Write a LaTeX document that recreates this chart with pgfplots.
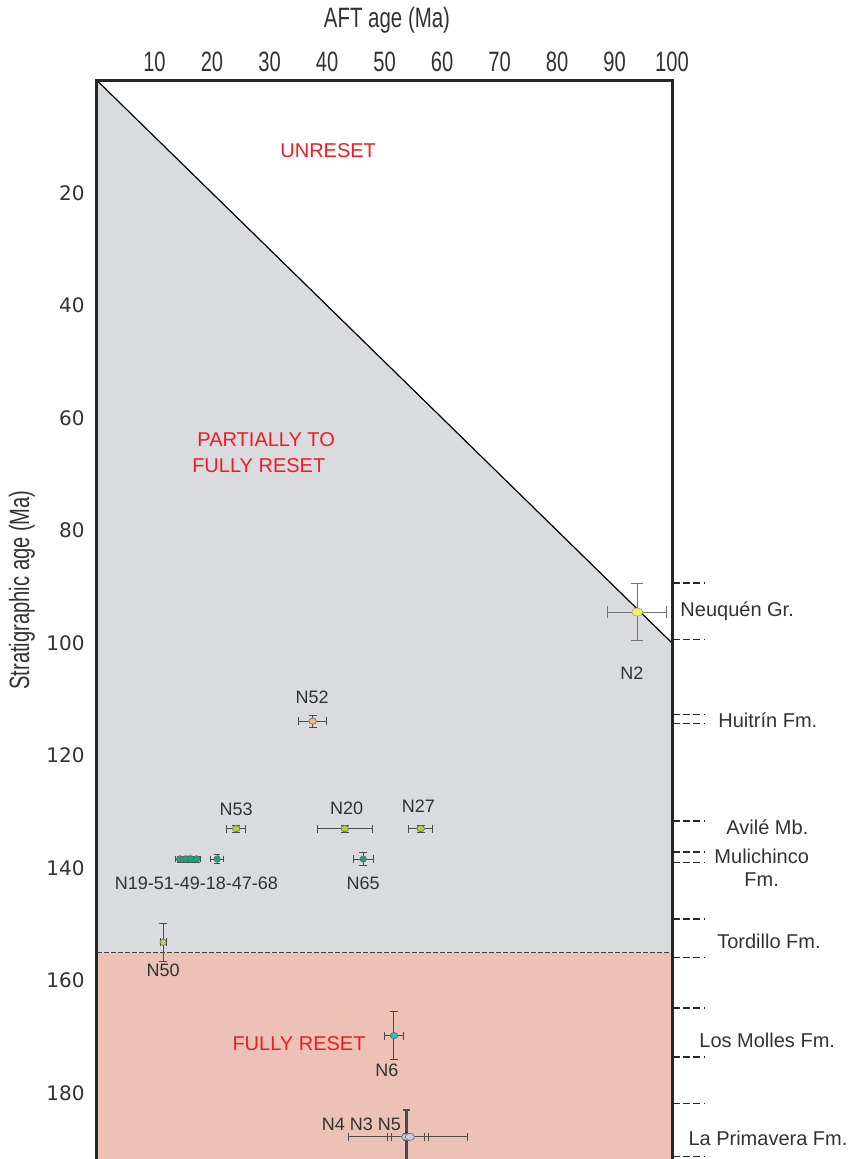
\documentclass[border=0pt]{standalone}
\usepackage{pgfplots}
\pgfplotsset{compat=1.18}
\usepackage{graphicx}
\usepackage{fontspec}
\setmainfont{Liberation Sans}
\newfontfamily\dejavu{DejaVu Sans}
\definecolor{greyreg}{RGB}{217,219,222}
\definecolor{pinkreg}{RGB}{236,193,182}
\definecolor{txt}{RGB}{50,50,50}
\definecolor{ebar}{RGB}{75,75,75}
\definecolor{cN2}{RGB}{238,238,120}
\definecolor{cN52}{RGB}{240,185,110}
\definecolor{cYG}{RGB}{180,210,50}
\definecolor{cTeal}{RGB}{20,170,120}
\definecolor{cN50}{RGB}{195,205,120}
\definecolor{cN6}{RGB}{30,195,205}
\definecolor{cN4}{RGB}{200,205,232}
\definecolor{redtxt}{RGB}{237,28,36}
\newcommand\cond[1]{\scalebox{0.72}[1]{#1}}
\pgfplotsset{
  eb/.style={only marks, mark=*, mark size=1.6pt,
    error bars/x dir=both, error bars/x explicit,
    error bars/y dir=both, error bars/y explicit,
    error bars/error bar style={line width=0.5pt, draw=ebar},
    error bars/error mark options={rotate=90, line width=0.5pt, draw=ebar, mark size=2pt}},
}
\begin{document}
\begin{tikzpicture}
\useasboundingbox (-48.5pt,3.56pt) rectangle (377.5pt,583.06pt);
\begin{axis}[
  at={(0pt,0pt)}, anchor=south west,
  scale only axis, width=287.5pt, height=542.81pt,
  xmin=0, xmax=100, ymin=0, ymax=193, y dir=reverse,
  clip=false, axis on top,
  axis line style={line width=1.5pt, draw=black!85},
  major tick length=0pt,
  xtick={10,20,...,100},
  xticklabels={\cond{10},\cond{20},\cond{30},\cond{40},\cond{50},\cond{60},\cond{70},\cond{80},\cond{90},\cond{100}},
  ytick={20,40,...,180},
  xticklabel pos=upper,
  /pgf/number format/assume math mode=true,
  xticklabel style={font=\fontsize{14}{14}\selectfont, text=txt, inner sep=0pt, anchor=south, yshift=4.25pt},
  yticklabel style={font=\dejavu\fontsize{10}{10}\selectfont, text=txt, inner sep=0pt, anchor=east, xshift=-6pt},
]
% regions
\addplot[draw=none, fill=greyreg] coordinates {(0,0) (100,100) (100,155) (0,155) (0,0)};
\addplot[draw=none, fill=pinkreg] coordinates {(0,155) (100,155) (100,193) (0,193) (0,155)};
\addplot[line width=0.6pt, black!75, dash pattern=on 2.4pt off 1.1pt] coordinates {(0,155) (100,155)};
\addplot[line width=0.6pt, black] coordinates {(0,0) (100,100)};

% data with error bars
\addplot[eb, mark size=2.1pt, mark options={fill=cN2, draw=cN2!70!black, line width=0.3pt, xscale=1.3},
  error bars/error bar style={line width=0.5pt, draw=black!55},
  error bars/error mark options={rotate=90, line width=0.5pt, draw=black!55, mark size=3pt}]
  coordinates {(93.97,94.5) +- (5.15,5.1)};
\addplot[eb, mark options={fill=cN52, draw=black!60, line width=0.3pt, xscale=1.2}]
  coordinates {(37.5,113.9) +- (2.4,1.07)};
\addplot[eb, mark options={fill=cYG, draw=black!60, line width=0.3pt, xscale=1.2}]
  coordinates {(24.2,133.0) +- (1.7,0.6) (43.1,133.0) +- (4.8,0.6) (56.3,133.0) +- (2.1,0.6)};
% cluster N19-51-49-18-47-68, then N65
\addplot[eb, mark options={fill=cTeal, draw=black!60, line width=0.3pt},
  error bars/error mark options={rotate=90, line width=0.4pt, draw=ebar, mark size=1.6pt}]
  coordinates {(14.4,138.4) +- (0.7,0.55) (15.4,138.4) +- (0.7,0.55) (15.9,138.4) +- (0.7,0.55)
               (16.3,138.4) +- (0.7,0.55) (17.3,138.4) +- (0.7,0.55)
               (20.9,138.4) +- (1.13,0.8)};
\addplot[eb, mark options={fill=cTeal, draw=black!60, line width=0.3pt}]
  coordinates {(46.3,138.4) +- (1.7,1.07)};
\addplot[only marks, mark=*, mark size=1.6pt, mark options={fill=cTeal, draw=black!60, line width=0.3pt}]
  coordinates {(14.4,138.4) (15.4,138.4) (16.3,138.4) (17.3,138.4)};
\addplot[eb, mark options={fill=cN50, draw=black!60, line width=0.3pt}]
  coordinates {(11.5,153.2) +- (0.5,3.4)};
\addplot[eb, mark options={fill=cN6, draw=black!60, line width=0.3pt, xscale=1.2}]
  coordinates {(51.65,169.8) +- (1.57,4.3)};
% N4 N3 N5
\addplot[only marks, mark=none, error bars/y dir=both, error bars/y explicit,
  error bars/error bar style={line width=1.4pt, draw=black!70},
  error bars/error mark options={rotate=90, line width=0.8pt, draw=black!70, mark size=1.8pt}]
  coordinates {(53.8,187.8) +- (0,4.8)};
\addplot[only marks, mark=*, mark size=1.8pt, mark options={fill=cN4, draw=black!60, line width=0.3pt, xscale=1.3},
  error bars/x dir=both, error bars/x explicit,
  error bars/error bar style={line width=0.5pt, draw=ebar},
  error bars/error mark options={rotate=90, line width=0.5pt, draw=ebar, mark size=2pt}]
  coordinates {(54.1,187.8) +- (10.4,0) (53.8,187.8) +- (3.2,0) (54.4,187.8) +- (3.2,0)};

% sample labels
\begin{scope}[every node/.style={font=\fontsize{9}{9}\selectfont, text=txt}]
\node at (axis cs:93.0,105.4) {N2};
\node at (axis cs:37.4,109.7) {N52};
\node at (axis cs:24.2,129.6) {N53};
\node at (axis cs:43.4,129.4) {N20};
\node at (axis cs:55.9,129.1) {N27};
\node at (axis cs:17.3,142.7) {N19-51-49-18-47-68};
\node at (axis cs:46.3,142.7) {N65};
\node at (axis cs:11.5,158.1) {N50};
\node at (axis cs:50.4,175.9) {N6};
\node at (axis cs:46.0,185.5) {N4 N3 N5};
\end{scope}

% region labels
\begin{scope}[every node/.style={font=\fontsize{10}{10}\selectfont, text=redtxt}]
\node at (axis cs:40.2,12.4) {UNRESET};
\node[anchor=west, inner sep=0pt] at (axis cs:17.4,63.9) {PARTIALLY TO};
\node[anchor=west, inner sep=0pt] at (axis cs:16.5,68.4) {FULLY RESET};
\node[anchor=west, inner sep=0pt] at (axis cs:23.5,171.3) {FULLY RESET};
\end{scope}

% formation boundaries
\pgfplotsinvokeforeach{89.3,99.4,112.7,114.3,131.6,137.2,139.0,149.1,155.9,164.9,173.6,181.9,191.3}{
  \draw[line width=0.8pt, black!85, dash pattern=on 3.5pt off 1.7pt] (axis cs:100.1,#1) -- (axis cs:105.7,#1);
}
\begin{scope}[every node/.style={font=\fontsize{10}{10}\selectfont, text=txt, inner sep=0pt}]
\node[anchor=west] at (axis cs:101.4,94.4) {Neuquén Gr.};
\node[anchor=west] at (axis cs:108.0,113.7) {Huitrín Fm.};
\node[anchor=west] at (axis cs:109.4,132.7) {Avilé Mb.};
\node at (axis cs:115.6,138.0) {Mulichinco};
\node at (axis cs:115.6,142.1) {Fm.};
\node[anchor=west] at (axis cs:107.8,153.0) {Tordillo Fm.};
\node[anchor=west] at (axis cs:104.7,170.6) {Los Molles Fm.};
\node[anchor=west] at (axis cs:102.8,188.0) {La Primavera Fm.};
\end{scope}
\end{axis}
\node[font=\fontsize{14}{14}\selectfont, text=txt] at (145pt,573.06pt) {\scalebox{0.73}[1]{AFT age (Ma)}};
\node[font=\fontsize{14}{14}\selectfont, text=txt, rotate=90] at (-37.5pt,288.06pt) {\scalebox{0.72}[1]{Stratigraphic age (Ma)}};
\end{tikzpicture}
\end{document}
